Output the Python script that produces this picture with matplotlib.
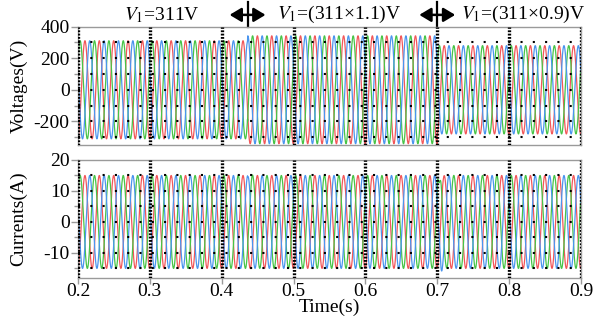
import numpy as np
import matplotlib
matplotlib.use("Agg")
import matplotlib.pyplot as plt
from matplotlib.ticker import FixedLocator
import matplotlib.transforms as mtransforms

plt.rcParams["font.family"] = ["Liberation Serif", "DejaVu Serif"]
plt.rcParams["mathtext.fontset"] = "stix"
plt.rcParams["axes.unicode_minus"] = False

# ---- operating conditions -------------------------------------------------
grid_freq = 50.0                      # Hz
v_nominal = 311.0                     # V, phase peak
segment_starts = [0.2, 0.436, 0.7]    # s, instants of voltage change
segment_factors = [1.0, 1.1, 0.9]     # per-unit of nominal voltage
current_peak = 15.0                   # A
green_peak_time = 0.203               # s, first peak of the green phase

# damped disturbances added to the currents at each change (A)
kick_times = [0.436, 0.7]
kick_red = [0.0, 0.5]
kick_green = [1.0, 4.0]
kick_blue = [-0.5, -3.0]
kick_tau = 0.005

time_ticks = [0.2, 0.3, 0.4, 0.5, 0.6, 0.7, 0.8, 0.9]
v_major = [-200, 0, 200, 400]
v_minor = [-300, -100, 100, 300]
v_dots = [-300, -200, -100, 0, 100, 200, 300]
i_major = [-10, 0, 10, 20]
i_minor = [-15, -5, 5, 15]
i_dots = [-15, -10, -5, 0, 5, 10, 15]

colors = {"red": "#f2575a", "green": "#47c447", "blue": "#4b95ee"}
shifts = {"green": 0.0, "red": -2 * np.pi / 3, "blue": 2 * np.pi / 3}

t = np.linspace(0.2, 0.9, 14001)
w = 2 * np.pi * grid_freq
amp_v = np.full_like(t, v_nominal)
for start, fac in zip(segment_starts, segment_factors):
    amp_v[t >= start] = v_nominal * fac

kicks = {"red": kick_red, "green": kick_green, "blue": kick_blue}
volt = {}
curr = {}
for name in ["red", "green", "blue"]:
    ang = w * (t - green_peak_time) + shifts[name]
    volt[name] = amp_v * np.cos(ang)
    c = current_peak * np.cos(ang)
    for tk, k in zip(kick_times, kicks[name]):
        m = t >= tk
        dt = t[m] - tk
        c[m] += k * np.exp(-dt / kick_tau) * np.cos(2 * np.pi * dt / 0.006)
    curr[name] = c

fig = plt.figure(figsize=(6.06, 3.28), dpi=100)
ax_v = fig.add_axes([0.1287, 0.558, 0.83, 0.3606])
ax_i = fig.add_axes([0.1287, 0.1534, 0.83, 0.3588])

FS = 14
grey = "#9a9a9a"


def style(ax, ylim, major, minor, dots):
    ax.set_xlim(0.2, 0.9)
    ax.set_ylim(*ylim)
    for y in dots:
        ax.plot([0.2, 0.9], [y, y], color="k", lw=1.5,
                linestyle=(0, (1, 4.9)), zorder=4, solid_capstyle="butt")
    for x in time_ticks:
        ax.axvline(x, color="k", lw=2.4, linestyle=(0, (0.55, 0.45)),
                   zorder=5)
    ax.yaxis.set_major_locator(FixedLocator(major))
    ax.yaxis.set_minor_locator(FixedLocator(minor))
    ax.xaxis.set_major_locator(FixedLocator(time_ticks))
    ax.tick_params(axis="y", which="major", length=5, width=1, color=grey,
                   labelsize=FS, pad=1)
    ax.tick_params(axis="y", which="minor", length=3, width=1, color=grey)
    ax.tick_params(axis="x", which="major", length=4, width=1, color=grey,
                   labelsize=FS, pad=0)
    for s in ax.spines.values():
        s.set_color(grey)
        s.set_linewidth(1.0)


for name in ["red", "green", "blue"]:
    ax_v.plot(t, volt[name], color=colors[name], lw=0.9, zorder=2)
    ax_i.plot(t, curr[name], color=colors[name], lw=0.9, zorder=2)

style(ax_v, (-350, 400), v_major, v_minor, v_dots)
style(ax_i, (-18, 20), i_major, i_minor, i_dots)
ax_v.tick_params(axis="x", labelbottom=False, length=0)

ax_v.set_ylabel("Voltages(V)", fontsize=FS)
ax_i.set_ylabel("Currents(A)", fontsize=FS)
ax_i.set_xlabel("Time(s)", fontsize=FS, labelpad=-1)
ax_v.yaxis.set_label_coords(-0.1, 0.5)
ax_i.yaxis.set_label_coords(-0.1, 0.5)

# condition labels and change markers above the voltage panel
trans = mtransforms.blended_transform_factory(ax_v.transData, ax_v.transAxes)
labels = [(0.317, r"$V_1$=311V"),
          (0.563, r"$V_1$=(311×1.1)V"),
          (0.819, r"$V_1$=(311×0.9)V")]
for x, s in labels:
    ax_v.text(x, 1.1, s, transform=trans, ha="center", va="center",
              fontsize=FS)

for tc in segment_starts[1:]:
    ax_v.annotate("", xy=(tc - 0.025, 1.1), xytext=(tc + 0.025, 1.1),
                  xycoords=trans, textcoords=trans,
                  arrowprops=dict(arrowstyle="<|-|>,head_length=0.7,head_width=0.42",
                                  color="k", lw=1.8,
                                  mutation_scale=10, shrinkA=0, shrinkB=0))
    ax_v.plot([tc, tc], [1.0, 1.21], transform=trans, color="k", lw=1.6,
              clip_on=False)

fig.savefig("out.png", dpi=100)
